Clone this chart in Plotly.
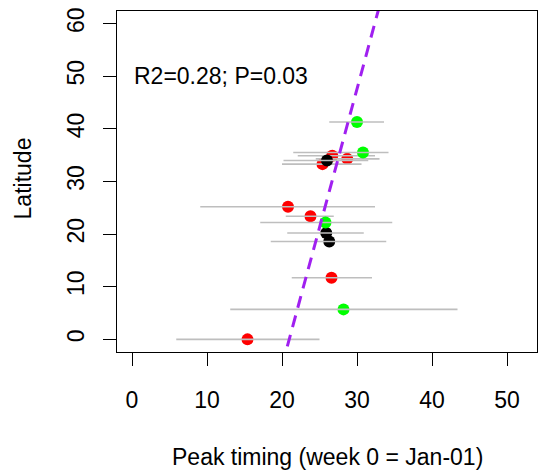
import plotly.graph_objects as go

# ---- data ----
groups = ["red", "black", "green"]
red_x = [15.4, 26.6, 20.8, 23.8, 25.4, 28.7, 26.7]
red_y = [0.0, 11.7, 25.2, 23.4, 33.3, 34.3, 34.9]
red_lo = [5.9, 21.3, 9.1, 20.5, 20.0, 24.5, 22.1]
red_hi = [25.0, 32.0, 32.4, 26.9, 30.6, 33.0, 32.4]

black_x = [26.3, 25.9, 26.0]
black_y = [18.6, 20.2, 34.0]
black_lo = [18.5, 20.7, 20.2]
black_hi = [33.9, 30.9, 31.5]

green_x = [28.2, 25.8, 30.8, 30.0]
green_y = [5.7, 22.2, 35.5, 41.3]
green_lo = [13.1, 17.1, 21.5, 26.3]
green_hi = [43.4, 34.7, 34.2, 33.6]

fit_intercept = 20.96   # timing at latitude 0
fit_slope = 0.19        # weeks per degree latitude
fit_lat = [-5, 70]

x_ticks = [0, 10, 20, 30, 40, 50]
y_ticks = [0, 10, 20, 30, 40, 50, 60]
annot_text = "R2=0.28; P=0.03"

series = {
    "red": (red_x, red_y, red_lo, red_hi, "#FF0000"),
    "black": (black_x, black_y, black_lo, black_hi, "#000000"),
    "green": (green_x, green_y, green_lo, green_hi, "#00FF00"),
}

FONT = "Liberation Sans, Arial, Helvetica, sans-serif"
FS = 23

fig = go.Figure()
for g in groups:
    xs, ys, lo, hi, col = series[g]
    fig.add_trace(go.Scatter(
        x=xs, y=ys, mode="markers",
        marker=dict(color=col, size=12, line=dict(width=0)),
        showlegend=False, hoverinfo="skip"))
    bx, by = [], []
    for yv, a, b in zip(ys, lo, hi):
        bx += [a, b, None]
        by += [yv, yv, None]
    fig.add_trace(go.Scatter(
        x=bx, y=by, mode="lines",
        line=dict(color="#BEBEBE", width=1.6),
        showlegend=False, hoverinfo="skip"))

fig.add_trace(go.Scatter(
    x=[fit_intercept + fit_slope * v for v in fit_lat], y=fit_lat,
    mode="lines", line=dict(color="#A020F0", width=3, dash="12px,8px"),
    showlegend=False, hoverinfo="skip"))

W, H = 540, 474
ml, mr, mt, mb = 117, 3, 11, 122
fig.update_layout(
    width=W, height=H,
    margin=dict(l=ml, r=mr, t=mt, b=mb),
    paper_bgcolor="white", plot_bgcolor="white",
    font=dict(family=FONT, size=FS, color="black"),
    xaxis=dict(range=[-2.0, 54.0], tickvals=x_ticks, ticks="outside",
               ticklen=13, tickwidth=1, tickcolor="black",
               showline=True, linecolor="black", linewidth=1, mirror=True,
               showgrid=False, zeroline=False, ticklabelstandoff=14,
               tickfont=dict(family=FONT, size=FS, color="black")),
    yaxis=dict(range=[-2.4, 62.4], tickvals=y_ticks, ticks="outside",
               ticklen=13, tickwidth=1, tickcolor="black",
               showline=True, linecolor="black", linewidth=1, mirror=True,
               showgrid=False, zeroline=False, tickangle=-90,
               ticklabelstandoff=10,
               tickfont=dict(family=FONT, size=FS, color="black")),
    annotations=[
        dict(text=annot_text, x=0, y=50, xref="x", yref="y",
             xanchor="left", yanchor="middle", showarrow=False,
             font=dict(family=FONT, size=FS, color="black")),
        dict(text="Peak timing (week 0 = Jan-01)", x=0.5, y=-0.307,
             xref="paper", yref="paper", xanchor="center", yanchor="middle",
             showarrow=False, font=dict(family=FONT, size=FS, color="black")),
        dict(text="Latitude", x=-0.223, y=0.51, xref="paper", yref="paper",
             xanchor="center", yanchor="middle", textangle=-90,
             showarrow=False, font=dict(family=FONT, size=FS, color="black")),
    ],
)

fig.write_html("out.html")
